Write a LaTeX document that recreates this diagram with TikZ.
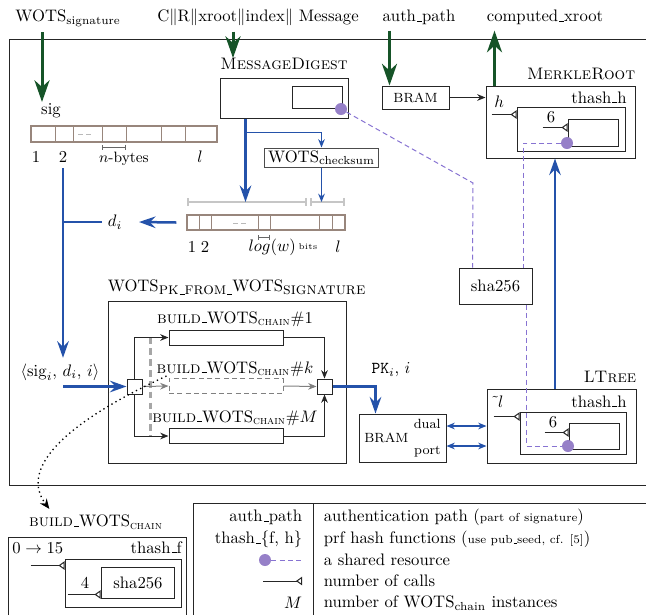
\documentclass[tikz,border=0pt]{standalone}
\usepackage{amsmath}
\usetikzlibrary{arrows.meta,positioning}
\definecolor{wotsgreen}{RGB}{22,84,40}
\definecolor{wotsblue}{RGB}{36,82,170}
\definecolor{sharedline}{RGB}{135,115,210}
\definecolor{sharedfill}{RGB}{150,128,200}
\definecolor{cellline}{RGB}{152,134,124}
% short underscore, as in the classic text fonts
\newcommand{\uscore}{\leavevmode\kern.06em\vbox{\hrule width.3em}}

\begin{document}
\begin{tikzpicture}[
  x=0.6pt, y=-0.6pt,
  >={Stealth[length=5pt,width=4pt]},
  sysframe/.style={draw=black!85, semithick},
  hwbox/.style={draw=black!85, semithick, inner sep=0pt},
  chainbox/.style={hwbox, minimum width=68.4pt, minimum height=9pt},
  mux/.style={hwbox, minimum size=9pt},
  wordcells/.style={draw=cellline, line width=0.8pt, inner sep=0pt},
  cellsep/.style={draw=cellline, line width=0.5pt},
  greenflow/.style={draw=wotsgreen, line width=1.8pt,
    -{Stealth[length=13pt,width=9pt,inset=4pt]}},
  blueflow/.style={draw=wotsblue, line width=1.5pt,
    -{Stealth[length=10pt,width=7pt,inset=3.5pt]}},
  bluethin/.style={draw=wotsblue, line width=0.7pt},
  shared/.style={draw=sharedline, densely dashed, line width=0.6pt},
  sharedot/.style={circle, fill=sharedfill, inner sep=0pt, minimum size=7.2pt},
  clk/.style={draw=black!85, semithick,
    -{Triangle[open,reversed,length=3.6pt,width=5pt]}},
  measure/.style={draw=gray!45, line width=1.1pt,
    {Bar[width=5pt]}-{Bar[width=5pt]}},
  scalebar/.style={draw=black!60, line width=0.6pt,
    {Bar[width=3pt]}-{Bar[width=3pt]}},
  thinflow/.style={draw=black!85, semithick, ->}
]
  \useasboundingbox (0,0) rectangle (646,615);

  % Inputs and output of the verifier
  \node[anchor=base] (wotssig) at (68,21.5) {WOTS$_{\text{signature}}$};
  \node[anchor=base] (message) at (258,21.5) {C$\|$R$\|$xroot$\|$index$\|$ Message};
  \node[anchor=base] (authpath) at (419,21.5) {auth\uscore path};
  \node[anchor=base] (xroot) at (545,21.5) {computed\uscore xroot};

  \draw[sysframe] (646,39) -- (10,39) -- (10,485) -- (646,485);

  % Message digest and checksum
  \node[hwbox, minimum width=76.8pt, minimum height=24pt] (digest) at (284,98) {};
  \node[above=1pt of digest] (digestlbl) {\textsc{MessageDigest}};
  \node[hwbox, minimum width=30pt, minimum height=13.2pt] (digestcore) at (317,97) {};
  \node[sharedot] (digestdot) at (341,109) {};

  \node[hwbox, draw=black!70, minimum width=68pt, minimum height=11.4pt]
    (checksum) at (321.5,157.5) {WOTS$_{\text{checksum}}$};

  % Signature words
  \node (sig) at (51,111) {sig};
  \node[wordcells, minimum width=111.6pt, minimum height=9.6pt] (sigarr) at (124,134) {};
  \foreach \cx in {55,73,102,126,161,185}
    \draw[cellsep] (\cx,126) -- (\cx,142);
  \draw[gray!55, densely dashed, line width=0.4pt] (78,134) -- (93,134);
  \node (sigone) at (36,157) {1};
  \node (sigtwo) at (63,157) {2};
  \node (sigl) at (200,157) {$l$};
  \draw[scalebar] (102,147) -- (126,147);
  \node[font=\small] (nbytes) at (124,159) {$n$-bytes};

  % Message digits d_i
  \node[wordcells, minimum width=94.8pt, minimum height=9pt] (digits) at (266,222.5) {};
  \foreach \cx in {199,211,258,270,319,332}
    \draw[cellsep] (\cx,215) -- (\cx,230);
  \draw[gray!55, densely dashed, line width=0.4pt] (233,223) -- (248,223);
  \coordinate (barleft) at (187,202);
  \coordinate (barright) at (345,202);
  \draw[measure] (barleft) -- (307,202);
  \draw[measure] (310,202) -- (barright);
  \node (digone) at (192,247) {1};
  \node (digtwo) at (205,247) {2};
  \draw[scalebar] (258,237) -- (270,237);
  \node (logw) at (283,247) {$log(w)$\,\raisebox{1pt}{\tiny bits}};
  \node (digl) at (338,247) {$l$};
  \node (di) at (115,222) {$d_i$};

  \coordinate (digestout) at ([xshift=15.6pt]digest.south west);
  \draw[blueflow] (digestout) -- (digestout |- barleft);
  \draw[bluethin, ->] ([yshift=-8.4pt]digestout) -| (checksum.north);
  \draw[bluethin, ->] (checksum.south) -- (checksum.south |- barright);
  \draw[blueflow] ([xshift=-6pt]digits.west) -- ([xshift=6.6pt]di.east);
  \draw[blueflow, -] (di.west) -- (di.west -| sigtwo);

  \node (sigtriple) at (60,372) {$\langle\mathrm{sig}_i,\, d_i,\, i\rangle$};
  \draw[blueflow] (sigtwo.south) -- (sigtwo.south |- sigtriple.north);

  % WOTS public key from signature
  \node[hwbox, minimum width=143.4pt, minimum height=97.2pt] (pkbox) at (227.5,382) {};
  \node[anchor=south west, inner xsep=0pt] (pklbl) at (pkbox.north west)
    {WOTS\raisebox{-2pt}{\textsc{pk\uscore from\uscore}}WOTS\raisebox{-2pt}{\textsc{signature}}};
  \node[chainbox] (chainone) at (226,337.5) {};
  \node[chainbox, draw=gray, densely dashed] (chaink) at (226,386) {};
  \node[chainbox] (chainM) at (226,436) {};
  \node[anchor=base] (chainonelbl) at (235,323)
    {\textsc{build\uscore}WOTS\textsubscript{\textsc{chain}}\#1};
  \node[anchor=base] (chainklbl) at (235,373)
    {\textsc{build\uscore}WOTS\textsubscript{\textsc{chain}}\#$k$};
  \node[anchor=base] (chainMlbl) at (235,422)
    {\textsc{build\uscore}WOTS\textsubscript{\textsc{chain}}\#$M$};
  \node[mux] (muxin) at (134.5,386.5) {};
  \node[mux] (muxout) at (324.5,386.5) {};

  \draw[gray!70, line width=1.3pt, dash pattern=on 4pt off 2.5pt]
    ([xshift=-10.8pt]chainone.west) -- ([xshift=-10.8pt]chainM.west);
  \draw[thinflow] (muxin.north) |- (chainone.west);
  \draw[thinflow] (muxin.south) |- (chainM.west);
  \draw[thinflow, draw=gray] (muxin.east) -- (chaink.west);
  \draw[thinflow] (chainone.east) -| (muxout.north);
  \draw[thinflow] (chainM.east) -| (muxout.south);
  \draw[thinflow, draw=gray] (chaink.east) -- (muxout.west);

  \draw[blueflow] (sigtwo.south |- muxin.west) -- (muxin.west);

  % Public key store
  \node[hwbox, minimum width=52.2pt, minimum height=28.8pt] (pkbram) at (402.5,438) {};
  \node[font=\footnotesize, anchor=west] (pkbramlbl) at (pkbram.west) {BRAM};
  \node[font=\footnotesize, anchor=north east] (dual) at (pkbram.north east) {dual};
  \node[font=\footnotesize, anchor=south east] (port) at (pkbram.south east) {port};
  \node (pklabel) at (391,370) {$\mathtt{PK}_i$, $i$};
  \draw[blueflow] (muxout.east) -| ([xshift=10.2pt]pkbram.north west);

  % L-tree
  \node[hwbox, minimum width=89.4pt, minimum height=44.4pt] (ltree) at (561.5,426) {};
  \node[anchor=south east, inner xsep=0pt] (ltreelbl) at (ltree.north east) {L\textsc{Tree}};
  \node[hwbox, minimum width=63.6pt, minimum height=25.2pt] (ltreefn) at (573,433) {};
  \node[hwbox, minimum width=30pt, minimum height=15.6pt] (ltreecore) at (594,436) {};
  \node[anchor=base west, inner sep=0pt] (ltreel) at (495,407) {$\tilde{}\,l$};
  \node[anchor=base east, inner sep=0pt] (ltreename) at (627,407) {thash\uscore h};
  \node[anchor=base, inner sep=0pt] (ltreesix) at (553,427) {6};
  \node[sharedot] (ltreedot) at (568,446) {};
  \draw[clk] ([shift={(-15.6pt,-3pt)}]ltreefn.north west) -- ([yshift=-3pt]ltreefn.north west);
  \draw[clk] ([shift={(-14.4pt,-6pt)}]ltreecore.north west) -- ([yshift=-6pt]ltreecore.north west);

  \draw[bluethin, <->] ([yshift=7.2pt]pkbram.east) -- ([yshift=7.2pt]pkbram.east -| ltree.west);
  \draw[bluethin, <->] ([yshift=-4.8pt]pkbram.east) -- ([yshift=-4.8pt]pkbram.east -| ltree.west);

  % Merkle root
  \node[hwbox, font=\footnotesize, minimum width=40.2pt, minimum height=13.8pt]
    (authbram) at (415.5,97.5) {BRAM};
  \node[hwbox, minimum width=89.4pt, minimum height=43.2pt] (merkle) at (560.5,122) {};
  \node[anchor=south east, inner xsep=0pt] (merklelbl) at (merkle.north east) {\textsc{MerkleRoot}};
  \node[hwbox, minimum width=64.8pt, minimum height=26.4pt] (merklefn) at (571,129) {};
  \node[hwbox, minimum width=30pt, minimum height=16.2pt] (merklecore) at (593,132.5) {};
  \node[anchor=base west, inner sep=0pt] (merkleh) at (494,107) {$h$};
  \node[anchor=base east, inner sep=0pt] (merklename) at (627,103) {thash\uscore h};
  \node[anchor=base, inner sep=0pt] (merklesix) at (551,122) {6};
  \node[sharedot] (merkledot) at (567,143) {};
  \draw[clk] ([shift={(-15pt,-4.8pt)}]merklefn.north west) -- ([yshift=-4.8pt]merklefn.north west);
  \draw[clk] ([shift={(-15pt,-5.4pt)}]merklecore.north west) -- ([yshift=-5.4pt]merklecore.north west);

  \draw[thinflow] (authbram.east) -- (authbram.east -| merkle.west);
  \draw[blueflow] ([xshift=-3.9pt]ltree.north) -- ([xshift=-3.9pt]ltree.north |- merkle.south);

  \coordinate (authin) at ([xshift=4.8pt]authbram.north west);
  \draw[greenflow] (authpath.south -| authin) -- (authin);
  \coordinate (xrootout) at ([xshift=5.4pt]merkle.north west);
  \draw[greenflow] (xrootout) -- (xroot.south -| xrootout);
  \coordinate (sigin) at (42,102);
  \draw[greenflow] (wotssig.south -| sigin) -- (sigin);
  \coordinate (digestin) at (233,58);
  \draw[greenflow] (message.south -| digestin) -- (digestin);

  % Shared hash core
  \node[hwbox, minimum width=43.8pt, minimum height=21.6pt] (sha) at (495.5,286) {sha256};
  \coordinate (digestbend) at (473,183);
  \draw[shared] (digestdot) -- (digestbend) -- ([xshift=8.4pt]sha.north west);
  \draw[shared] (merkledot) -| ([xshift=-5.4pt]sha.north east);
  \draw[shared] ([xshift=-3.6pt]sha.south east) |- (ltreedot);

  % Detail of one chain
  \node (buildlbl) at (96,522) {\textsc{build\uscore}WOTS\textsubscript{\textsc{chain}}};
  \draw[dotted, thick, -{Stealth[length=6pt,width=5pt]}]
    ([shift={(-1.2pt,1.2pt)}]chaink.north west) .. controls (60,425) and (20,470)
    .. ([xshift=15.6pt]buildlbl.north west);
  \draw[sysframe] (8,615) |- (186,537) -- (186,615);
  \node[hwbox, minimum width=70.2pt, minimum height=28.8pt] (thashf) at (123.5,583) {};
  \node[hwbox, minimum width=44.4pt, minimum height=18.6pt] (buildsha) at (138,582.5) {sha256};
  \node[anchor=base west, inner sep=0pt] (rounds) at (12,553) {$0\rightarrow15$};
  \node[anchor=base east, inner sep=0pt] (thashfname) at (182,553) {thash\uscore f};
  \node[anchor=base, inner sep=0pt] (four) at (85,588) {4};
  \draw[clk] ([shift={(-20.4pt,-4.2pt)}]thashf.north west) -- ([yshift=-4.2pt]thashf.north west);
  \draw[clk] ([shift={(-19.8pt,-16.8pt)}]buildsha.north west) -- ([yshift=-16.8pt]buildsha.north west);

  % Legend
  \draw[sysframe] (646,503) -- (193,503) -- (193,615);
  \draw[sysframe] (313,503) -- (313,615);
  \node[anchor=east] (keyauth) at (308,517) {auth\uscore path};
  \node[anchor=west] (descauth) at (318,517) {authentication path ({\scriptsize part of signature})};
  \node[anchor=east] (keyhash) at (308,539) {thash\uscore\{f, h\}};
  \node[anchor=west] (deschash) at (318,539) {prf hash functions ({\scriptsize use pub\uscore seed, cf. [5]})};
  \node[sharedot] (keydot) at (265,560) {};
  \coordinate (keydotend) at (302,560);
  \draw[shared] (keydot) -- (keydotend);
  \node[anchor=west] (descdot) at (318,560) {a shared resource};
  \coordinate (keyclka) at (263,581);
  \coordinate (keyclkb) at (302,581);
  \draw[clk] (keyclka) -- (keyclkb);
  \node[anchor=west] (descclk) at (318,581) {number of calls};
  \node[anchor=east] (keym) at (308,603) {$M$};
  \node[anchor=west] (descm) at (318,603) {number of WOTS$_{\text{chain}}$ instances};
\end{tikzpicture}
\end{document}
